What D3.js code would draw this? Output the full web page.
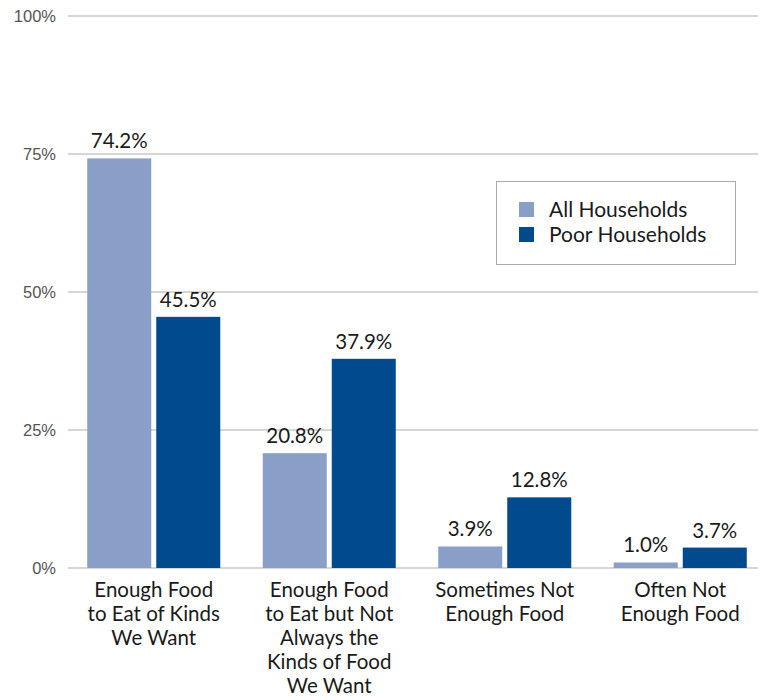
<!DOCTYPE html>
<html><head><meta charset="utf-8">
<script src="https://cdn.jsdelivr.net/npm/d3@7"></script>
<style>body{margin:0;background:#fff}svg{display:block;font-family:Lato,"Open Sans",sans-serif}</style>
</head><body><svg id="c" width="764" height="700"></svg>
<script>
const categories = [
  ["Enough Food","to Eat of Kinds","We Want"],
  ["Enough Food","to Eat but Not","Always the","Kinds of Food","We Want"],
  ["Sometimes Not","Enough Food"],
  ["Often Not","Enough Food"]
];
const seriesNames = ["All Households","Poor Households"];
const allHouseholds = [74.2, 20.8, 3.9, 1.0];
const poorHouseholds = [45.5, 37.9, 12.8, 3.7];
const yTicks = [0,25,50,75,100];
const colors = ["#8a9fc8","#004a8d"];

const svg = d3.select("#c");
const y = d3.scaleLinear().domain([0,100]).range([568,16]);
const x0 = d3.scaleBand().domain(d3.range(categories.length)).range([66,768]).paddingInner(0.242).paddingOuter(0.121);
const x1 = d3.scaleBand().domain([0,1]).range([0,x0.bandwidth()]).paddingInner(0.0725);

// grid
const yAxis = d3.axisLeft(y).tickValues(yTicks).tickSize(0).tickFormat(d=>d+"%");
svg.append("g").selectAll("line").data(yTicks).join("line")
  .attr("x1",68).attr("x2",758).attr("y1",d=>y(d)).attr("y2",d=>y(d))
  .attr("stroke","#c8c8c8").attr("stroke-width",1.3);
const ga = svg.append("g").attr("transform","translate(56,0)").call(yAxis);
ga.select(".domain").remove();
ga.selectAll("text").attr("fill","#555").attr("font-size",16.5).attr("dy","0.35em").attr("x",0);

const data = categories.map((c,i)=>[allHouseholds[i], poorHouseholds[i]]);
const g = svg.append("g").selectAll("g").data(data).join("g")
  .attr("transform",(d,i)=>`translate(${x0(i)},0)`);
g.selectAll("rect").data(d=>d).join("rect")
  .attr("x",(d,j)=>x1(j)).attr("width",x1.bandwidth())
  .attr("y",d=>y(d)).attr("height",d=>y(0)-y(d))
  .attr("fill",(d,j)=>colors[j]);
g.selectAll("text").data(d=>d).join("text")
  .attr("x",(d,j)=>x1(j)+x1.bandwidth()/2).attr("y",d=>y(d)-10)
  .attr("text-anchor","middle").attr("font-size",20.5).attr("fill","#1a1a1a")
  .text(d=>d.toFixed(1)+"%");

// category labels
svg.append("g").selectAll("text").data(categories).join("text")
  .attr("x",(d,i)=>x0(i)+x0.bandwidth()/2).attr("y",597)
  .attr("text-anchor","middle").attr("font-size",20.5).attr("fill","#1a1a1a")
  .each(function(d){
    d3.select(this).selectAll("tspan").data(d).join("tspan")
      .attr("x",d3.select(this).attr("x")).attr("dy",(t,k)=>k?24:0).text(t=>t);
  });

// legend
const lg = svg.append("g");
lg.append("rect").attr("x",496.5).attr("y",181.5).attr("width",239).attr("height",83)
  .attr("fill","#fff").attr("stroke","#aaa").attr("stroke-width",1);
seriesNames.forEach((s,i)=>{
  lg.append("rect").attr("x",519).attr("y",202+i*25).attr("width",15).attr("height",15).attr("fill",colors[i]);
  lg.append("text").attr("x",549).attr("y",217+i*25).attr("font-size",21).attr("fill","#1a1a1a").text(s);
});
</script></body></html>
